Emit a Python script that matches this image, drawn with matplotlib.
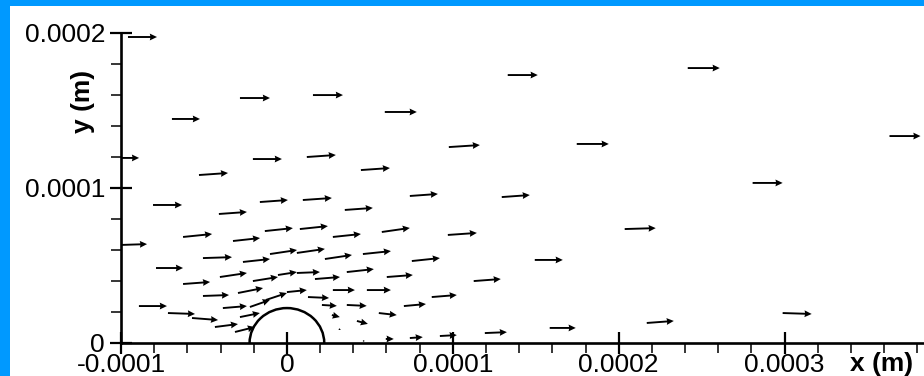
import numpy as np
import matplotlib
matplotlib.use("Agg")
import matplotlib.pyplot as plt
from matplotlib.patches import Arc, Rectangle
from matplotlib.ticker import MultipleLocator

# ---- data (micrometres) ----
x_um = [-95.8, -28.3, 15.7, 59.0, 133.1, 241.6, 363.2, -69.3, -104.2, -20.5,
        12.0, 44.6, 97.6, 174.7, -53.0, 280.7, -80.7, -16.3, 9.6, 74.1,
        129.5, -41.0, 34.9, 203.6, -101.8, -62.6, -32.5, -13.3, 7.8, 27.7,
        57.2, 97.0, -78.9, -50.6, -26.5, -10.2, 6.0, 22.9, 45.8, 75.3,
        149.4, -62.6, -40.4, -20.5, -5.4, 6.0, 16.9, 36.1, 60.2, 112.6,
        -50.6, -29.5, -12.7, 0.0, 12.7, 27.7, 48.2, 87.3, 21.1, 36.1,
        70.5, 27.1, 42.2, 55.4, 31.3, 45.8, 59.6, 74.1, 92.2, 119.3,
        158.4, 216.9, 298.8, -89.2, -71.7, -57.2, -38.6, -43.4, -28.3, -31.3,
        -22.3]
y_um = [197.1, 157.8, 159.7, 148.8, 172.6, 177.1, 133.3, 144.3, 119.2, 118.5,
        119.8, 111.4, 126.2, 128.2, 108.2, 103.1, 88.9, 90.8, 92.1, 94.7,
        94.0, 83.1, 85.7, 73.4, 63.1, 68.3, 65.7, 72.1, 73.4, 68.3,
        71.5, 69.6, 48.3, 54.7, 52.2, 57.3, 58.0, 54.1, 57.3, 52.8,
        53.5, 38.0, 42.5, 39.9, 43.8, 45.1, 41.2, 45.7, 42.5, 39.9,
        30.3, 32.2, 27.7, 32.8, 29.6, 34.1, 34.1, 29.6, 24.5, 24.5,
        23.8, 18.0, 14.2, 19.3, 9.0, 1.3, 2.6, 3.2, 4.5, 6.4,
        9.7, 12.9, 19.3, 23.8, 19.3, 16.1, 22.5, 10.3, 16.7, 7.1,
        23.2]
u_um = [17.5, 18.1, 18.1, 19.3, 18.1, 19.3, 18.7, 16.9, 15.1, 17.5,
        17.5, 17.5, 18.7, 19.3, 17.5, 18.1, 17.5, 16.9, 17.5, 16.9,
        16.9, 16.9, 16.9, 18.7, 17.5, 17.5, 16.3, 16.9, 16.9, 16.9,
        16.9, 17.5, 16.3, 17.5, 16.3, 16.3, 16.9, 16.3, 16.9, 16.9,
        16.9, 16.3, 16.3, 15.1, 11.4, 13.9, 15.1, 16.3, 15.7, 16.3,
        15.7, 15.1, 12.7, 12.0, 12.7, 13.3, 14.5, 15.1, 9.0, 12.0,
        13.3, 4.8, 6.6, 10.8, 1.2, 1.2, 4.8, 7.8, 10.2, 13.3,
        15.7, 16.3, 17.5, 16.9, 16.3, 15.7, 14.5, 13.9, 12.0, 12.0,
        12.0]
v_um = [0, 0, 0, 0, 0, 0, 0, 0, 0, 0,
        1.3, 1.3, 1.3, 0, 1.3, 0, 0, 1.3, 1.3, 1.3,
        1.3, 1.3, 1.3, 0.6, 0.6, 1.9, 1.9, 1.9, 1.9, 1.9,
        2.6, 1.3, 0, 0.6, 1.9, 2.6, 2.6, 2.6, 1.9, 1.9,
        0, 1.3, 2.6, 2.6, 1.9, 0.6, 1.3, 1.9, 1.3, 1.3,
        0.6, 3.2, 4.5, 1.3, -0.6, 0, 0, 1.3, -0.6, -0.6,
        1.3, -1.3, -1.9, -1.3, -0.6, 0, 0, 0.6, 0.6, 0.6,
        0, 1.3, -0.6, 0, -0.6, -1.3, 1.3, 1.9, 2.6, 3.2,
        4.5]

cylinder_radius_um = 22.5

xtick_vals = [-0.0001, 0.0, 0.0001, 0.0002, 0.0003]
xtick_labels = ["-0.0001", "0", "0.0001", "0.0002", "0.0003"]
ytick_vals = [0.0, 0.0001, 0.0002]
ytick_labels = ["0", "0.0001", "0.0002"]

UM = 1e-6
x = np.array(x_um) * UM
y = np.array(y_um) * UM
u = np.array(u_um) * UM
v = np.array(v_um) * UM
r = cylinder_radius_um * UM

plt.rcParams['font.family'] = ['Liberation Sans', 'DejaVu Sans']

W, H = 924, 376
fig = plt.figure(figsize=(W / 100, H / 100), dpi=100, facecolor='#0099ff')
fig.add_artist(Rectangle((10 / W, 0), 1, 1 - 6 / H, transform=fig.transFigure,
                         facecolor='white', edgecolor='none', zorder=0))

ax = fig.add_axes([121 / W, 33 / H, (W - 121) / W, 310.5 / H])
ax.set_facecolor('white')
ax.set_xlim(-1e-4, 3.84e-4)
ax.set_ylim(0, 2e-4)

ax.quiver(x, y, u, v, angles='xy', scale_units='xy', scale=1,
          units='dots', width=1.9, headwidth=3.6, headlength=3.8,
          headaxislength=3.5, color='black', zorder=3)

ax.add_patch(Arc((0, 0), 2 * r, 2 * r, theta1=0, theta2=180,
                 lw=1.8, color='black', zorder=3))

for s in ('top', 'right'):
    ax.spines[s].set_visible(False)
for s in ('left', 'bottom'):
    ax.spines[s].set_linewidth(1.9)

ax.set_xticks(xtick_vals)
ax.set_xticklabels(xtick_labels)
ax.set_yticks(ytick_vals)
ax.set_yticklabels(ytick_labels)
ax.xaxis.set_minor_locator(MultipleLocator(2e-5))
ax.yaxis.set_minor_locator(MultipleLocator(2e-5))
ax.tick_params(which='major', direction='inout', length=16, width=1.6,
               labelsize=19, colors='black')
ax.tick_params(axis='x', which='major', pad=-1)
ax.tick_params(axis='y', which='major', pad=3.5)
ax.tick_params(which='minor', direction='out', length=7, width=1.1)

fig.text(83 / W, 1 - 101 / H, 'y (m)', rotation=90, ha='center', va='center',
         fontsize=19, fontweight='bold')
fig.text(882 / W, 1 - 364 / H, 'x (m)', ha='center', va='center',
         fontsize=19, fontweight='bold')

fig.savefig('out.png', dpi=100, facecolor=fig.get_facecolor())
